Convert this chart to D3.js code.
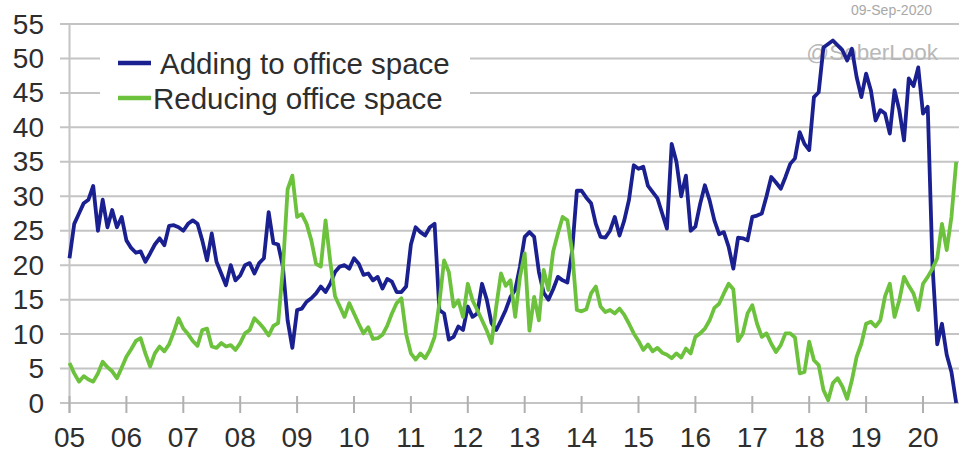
<!DOCTYPE html>
<html>
<head>
<meta charset="utf-8">
<script src="https://cdn.jsdelivr.net/npm/d3@7"></script>
<style>
  html, body { margin: 0; padding: 0; background: #fff; }
  svg { display: block; font-family: "Liberation Sans", Arial, sans-serif; }
</style>
</head>
<body>
<svg id="chart" width="959" height="451"></svg>
<script>
// ---- Data (monthly, Jan 2005 – Aug 2020) ----
const startYear = 2005;
const yearLabels = ["05","06","07","08","09","10","11","12","13","14","15","16","17","18","19","20"];
const yTicks = [0,5,10,15,20,25,30,35,40,45,50,55];
const seriesNames = ["Adding to office space", "Reducing office space"];

const adding = [
  21, 26, 27.5, 29, 29.5, 31.5, 25, 29.5, 25.5, 28, 25.5, 27,
  23.6, 22.5, 21.8, 22, 20.5, 21.7, 23, 23.9, 22.9, 25.7, 25.8, 25.5,
  25, 26, 26.5, 26, 23.6, 20.7, 24.6, 20.5, 18.8, 17.1, 20, 17.8,
  18.5, 20, 20.3, 18.8, 20.3, 21, 27.7, 23.2, 23, 19.8, 12, 8,
  13.5, 13.7, 14.7, 15.2, 15.9, 16.9, 16.1, 17.3, 19, 19.8, 20, 19.5,
  21, 20.2, 18.6, 18.8, 17.8, 18.3, 16.6, 18, 17.6, 16.1, 16.1, 16.9,
  23, 25.5, 24.8, 24.3, 25.5, 26, 13.5, 13, 9.2, 9.6, 11.1, 10.6,
  14, 12.5, 13, 17.3, 15, 11.6, 10.6, 12, 13.5, 15.4, 16.4, 19.8,
  24.1, 24.8, 24.1, 19, 16, 15, 16.5, 18.3, 17.8, 17.5, 22, 30.8,
  30.8, 29.8, 29, 26, 24.1, 24, 25, 27, 24.3, 26.5, 29.5, 34.5,
  34, 34.3, 31.5, 30.6, 29.7, 27.5, 25.3, 37.6, 35, 30, 33, 25,
  25.6, 28.9, 31.6, 29.4, 26.5, 24.5, 24.8, 22.7, 19.5, 24, 23.9, 23.6,
  27, 27.2, 27.5, 30, 32.8, 32, 31.1, 32.8, 34.7, 35.5, 39.3, 37.6,
  36.7, 44.4, 45.1, 51.6, 52.1, 52.6, 51.9, 51.2, 49.7, 51.4, 47.3, 44.4,
  47.8, 45.4, 41, 42.5, 42, 39.1, 45.4, 42.5, 38.1, 47.1, 46, 48.7,
  42, 43, 20, 8.5, 11.5, 7, 4.5, 0
];

const reducing = [
  5.8, 4.3, 3.1, 3.9, 3.4, 3.1, 4.3, 6, 5.2, 4.6, 3.6, 5.1,
  6.7, 7.8, 9, 9.4, 7.2, 5.3, 7.2, 8.2, 7.5, 8.5, 10.3, 12.3,
  10.8, 10, 9, 8.3, 10.6, 10.8, 8.2, 8, 8.7, 8.2, 8.4, 7.7,
  8.7, 10.1, 10.6, 12.3, 11.6, 10.8, 9.8, 11.2, 11.6, 19.5, 31, 33,
  27, 27.4, 26, 23.6, 20.2, 19.8, 26.5, 20.5, 15.5, 14, 12.5, 14.5,
  13, 11.5, 10.1, 11, 9.3, 9.4, 9.9, 11.2, 13, 14.5, 15.2, 10,
  7.2, 6.3, 7.2, 6.5, 7.7, 9.6, 14.5, 20.7, 19, 14, 14.9, 12.5,
  17.3, 14.9, 13.5, 12, 10.5, 8.7, 14, 18.8, 17, 17.8, 12.5, 18.3,
  21.7, 10.5, 15.4, 12, 19.3, 16.4, 22, 24.6, 27, 26.5, 22, 13.5,
  13.3, 13.6, 15.9, 16.9, 14, 13.2, 13.5, 13, 13.7, 12.8, 11.5, 10.1,
  9, 7.7, 8.5, 7.5, 8, 7.3, 7, 6.5, 7.2, 6.6, 7.9, 7.2,
  9.6, 10.1, 10.8, 12, 13.8, 14.4, 15.9, 17.3, 16.5, 9, 10.1, 13,
  14.2, 11.5, 9.6, 10.1, 8.6, 7.4, 8.4, 10.1, 10.1, 9.5, 4.3, 4.5,
  8.9, 6.2, 5.5, 1.9, 0.4, 2.9, 3.6, 2.4, 0.6, 3.3, 6.7, 8.6,
  11.5, 11.8, 11.1, 12, 15.5, 17.3, 12.5, 14.9, 18.3, 17, 15.9, 13.5,
  17.3, 18.3, 19.5, 21, 26, 22.2, 27, 35
];

const colors = ["#1b2090", "#6cc23c"];

// ---- Chart ----
const svg = d3.select("#chart");
const W = 959;

const x = d3.scaleLinear().domain([0, 180]).range([69.5, 923]);
const y = d3.scaleLinear().domain([0, 55]).range([403, 24]);

const gridColor = "#c4c4c4";
const textColor = "#2e2e2e";

// gridlines
svg.append("g").selectAll("line").data(yTicks).join("line")
  .attr("x1", 60).attr("x2", W)
  .attr("y1", d => y(d)).attr("y2", d => y(d))
  .attr("stroke", gridColor).attr("stroke-width", 2);

// y axis line
svg.append("line")
  .attr("x1", x(0)).attr("x2", x(0))
  .attr("y1", y(55)).attr("y2", 413)
  .attr("stroke", gridColor).attr("stroke-width", 2);

// x ticks
svg.append("g").selectAll("line").data(yearLabels).join("line")
  .attr("x1", (d, i) => x(i * 12)).attr("x2", (d, i) => x(i * 12))
  .attr("y1", 396).attr("y2", 413)
  .attr("stroke", "#b0b0b0").attr("stroke-width", 2);

// y labels
svg.append("g").selectAll("text").data(yTicks).join("text")
  .attr("x", 44).attr("y", d => y(d))
  .attr("text-anchor", "end").attr("dominant-baseline", "central")
  .attr("font-size", 28).attr("fill", textColor)
  .text(d => d);

// x labels
svg.append("g").selectAll("text").data(yearLabels).join("text")
  .attr("x", (d, i) => x(i * 12)).attr("y", 437)
  .attr("text-anchor", "middle").attr("dominant-baseline", "central")
  .attr("font-size", 28).attr("fill", textColor)
  .text(d => d);

// date and watermark
svg.append("text").attr("x", 932).attr("y", 15).attr("text-anchor", "end")
  .attr("font-size", 14).attr("fill", "#a8a8a8").text("09-Sep-2020");
svg.append("text").attr("x", 938).attr("y", 60).attr("text-anchor", "end")
  .attr("font-size", 22.5).attr("fill", "#b8b8b8").text("@SoberLook");

// legend background
svg.append("rect").attr("x", 100).attr("y", 42).attr("width", 370).attr("height", 72)
  .attr("fill", "#fff");

// lines
const line = d3.line().x((d, i) => x(i)).y(d => y(d));
[adding, reducing].forEach((s, k) => {
  svg.append("path").datum(s)
    .attr("d", line)
    .attr("fill", "none")
    .attr("stroke", colors[k])
    .attr("stroke-width", 3.8)
    .attr("stroke-linejoin", "round");
});

// legend
const legendY = [63, 98];
const legendTextX = [160, 153];
seriesNames.forEach((n, k) => {
  svg.append("line").attr("x1", 118).attr("x2", 151)
    .attr("y1", legendY[k]).attr("y2", legendY[k])
    .attr("stroke", colors[k]).attr("stroke-width", 4.5);
  svg.append("text").attr("x", legendTextX[k]).attr("y", legendY[k])
    .attr("dominant-baseline", "central")
    .attr("font-size", 29.5).attr("fill", textColor).text(n);
});
</script>
</body>
</html>
